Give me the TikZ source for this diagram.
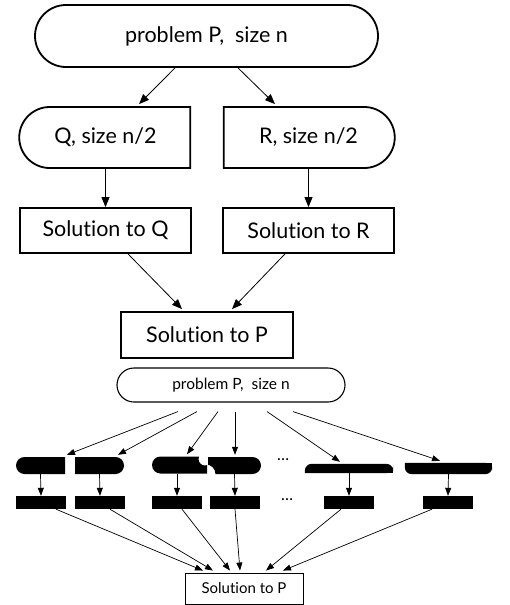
\documentclass[tikz,border=0pt]{standalone}
\usepackage{fontspec}
\setmainfont{Lato}[Ligatures=NoCommon]
\usetikzlibrary{
  arrows.meta,
  positioning,
  shapes.misc,
  calc
}
\newcommand{\stubBar}[2]{\node[stubBar] (#1) at (#2,502.5) {};}
\newcommand{\dotsMark}[2]{\node[dotsMark] (#1) at (#2) {\dots};}
\tikzset{
  bigCap/.style={
    rounded rectangle,
    draw,
    line width=1.8pt,
    inner sep=0pt,
    minimum height=61pt,
    minimum width=171pt,
    font=\fontsize{21.5}{24}\selectfont
  }
}
\tikzset{
  bigBox/.style={
    rectangle,
    draw,
    line width=1.8pt,
    inner sep=0pt,
    minimum height=45pt,
    minimum width=171pt,
    font=\fontsize{21.5}{24}\selectfont
  }
}
\tikzset{
  smallCap/.style={
    rounded rectangle,
    draw,
    line width=1.1pt,
    inner sep=0pt,
    minimum height=34pt,
    minimum width=228pt,
    font=\fontsize{15.5}{18}\selectfont
  }
}
\tikzset{
  piece/.style={
    rounded rectangle,
    fill=black,
    inner sep=0pt,
    minimum height=17pt,
    minimum width=49pt
  }
}
\tikzset{
  pieceSlot/.style={
    rectangle,
    inner sep=0pt,
    minimum height=9pt,
    minimum width=88pt
  }
}
\tikzset{
  stubBar/.style={
    rectangle,
    fill=black,
    inner sep=0pt,
    minimum height=13pt,
    minimum width=50pt
  }
}
\tikzset{
  dotsMark/.style={
    inner sep=0pt,
    font=\fontsize{16}{18}\selectfont
  }
}
\tikzset{
  thin arrow/.style={->, line width=0.7pt, >={Triangle[length=8pt,width=6pt]}}
}

\begin{document}
\begin{tikzpicture}[x=1pt, y=-1pt, >={Triangle[length=10pt,width=8pt]}]
  \useasboundingbox (0,0) rectangle (510,605);
  % divide into two halves
  \node[bigCap, minimum width=343pt, minimum height=62pt] (top) at (206.5,36) {problem P,\ \ size n};
  \node[bigCap, rounded rectangle right arc=none] (q) at (105.5,137.5) {Q, size n/2};
  \node[bigCap, rounded rectangle left arc=none] (r) at (308.5,137.5) {R, size n/2};
  \node[bigBox] (solQ) at (105.5,230.5) {Solution to Q};
  \node[bigBox] (solR) at (308.5,230.5) {Solution to R};
  \node[bigBox, minimum width=172pt, minimum height=46pt] (solP) at (207,335) {Solution to P};
  \draw[->, line width=0.8pt] ($(top.south)+(-31.5,0)$) -- ($(q.north)+(33.5,-2)$);
  \draw[->, line width=0.8pt] ($(top.south)+(31.5,0)$) -- ($(r.north)+(-33.5,-2)$);
  \draw[->, line width=0.8pt] (q) -- (solQ);
  \draw[->, line width=0.8pt] (r) -- (solR);
  \draw[->, line width=0.8pt] ($(solQ.south)+(22.5,0)$) -- ($(solP.north)+(-25,-2)$);
  \draw[->, line width=0.8pt] ($(solR.south)+(-23.5,0)$) -- ($(solP.north)+(25,-2)$);

  % divide into many pieces
  \node[smallCap] (prob) at (231,385) {problem P,\ \ size n};
  \node[piece, rounded rectangle right arc=none] (s1) at (40.5,465.5) {};
  \node[piece, rounded rectangle left arc=none] (s2) at (99.5,465.5) {};
  \begin{scope}[even odd rule]
    \clip (140,440) rectangle (280,490) (205,459) circle (6.5pt);
    \node[piece, rounded rectangle right arc=none, minimum width=55pt] (s3) at (179.5,465) {};
  \end{scope}
  \begin{scope}[even odd rule]
    \clip (140,440) rectangle (280,490) (206,474) circle (9.5pt);
    \node[piece, rounded rectangle left arc=none, minimum width=53pt] (s4) at (234.5,465.5) {};
  \end{scope}
  \node[pieceSlot] (s5) at (349,468.5) {};
  \fill[rounded corners=7pt] (s5.south west) -- (s5.north west) -- (s5.north east) -- (s5.south east) [sharp corners] -- cycle;
  \fill (s5.south west) rectangle (s5.east);
  \node[pieceSlot, minimum width=87pt, minimum height=11pt] (s6) at (448.5,468.5) {};
  \fill[rounded corners=7pt] (s6.north west) -- (s6.south west) -- (s6.south east) -- (s6.north east) [sharp corners] -- cycle;
  \fill (s6.north west) rectangle (s6.east);
  \dotsMark{d1}{283,460}
  \stubBar{b1}{41}
  \stubBar{b2}{100}
  \stubBar{b3}{177}
  \stubBar{b4}{235}
  \stubBar{b5}{349}
  \stubBar{b6}{448}
  \dotsMark{d2}{287,500}
  \node[rectangle, draw, line width=0.9pt, minimum width=118pt, minimum height=31pt, inner sep=0pt,
    font=\fontsize{15}{17}\selectfont] (fin) at (244,588.5) {Solution to P};

  \draw[thin arrow] ($(prob.south)+(-53,9)$) -- ($(s1.north)+(26.5,-2)$);
  \draw[thin arrow] ($(prob.south)+(-34,9)$) -- ($(s2.north)+(18.5,-2)$);
  \draw[thin arrow] ($(prob.south)+(-13,9)$) -- ($(s3.north)+(7.5,-2)$);
  \draw[thin arrow] ($(prob.south)+(4,9)$) -- ($(s4.north)+(0.5,-2)$);
  \draw[thin arrow] ($(prob.south)+(36,9)$) -- ($(s5.north)+(-9,-2)$);
  \draw[thin arrow] ($(prob.south)+(62,9)$) -- ($(s6.north)+(-8.5,-2)$);
  \draw[thin arrow] (s1.south) -- (b1.north);
  \draw[thin arrow] (s2.south) -- (b2.north);
  \draw[thin arrow] (s3.south -| b3) -- (b3.north);
  \draw[thin arrow] (s4.south) -- (b4.north);
  \draw[thin arrow] (s5.south) -- (b5.north);
  \draw[thin arrow] (s6.south) -- (b6.north);
  \draw[thin arrow] ($(b1.south)+(15,0)$) -- ($(fin.north)+(-41,-2)$);
  \draw[thin arrow] ($(b2.south)+(10,0)$) -- ($(fin.north)+(-31,-2)$);
  \draw[thin arrow] ($(b3.south)+(5,0)$) -- ($(fin.north)+(-14,-2)$);
  \draw[thin arrow] (b4.south) -- ($(fin.north)+(-4,-2)$);
  \draw[thin arrow] ($(b5.south)+(-8,0)$) -- ($(fin.north)+(22,-2)$);
  \draw[thin arrow] ($(b6.south)+(-16,0)$) -- ($(fin.north)+(39,-2)$);
\end{tikzpicture}
\end{document}
